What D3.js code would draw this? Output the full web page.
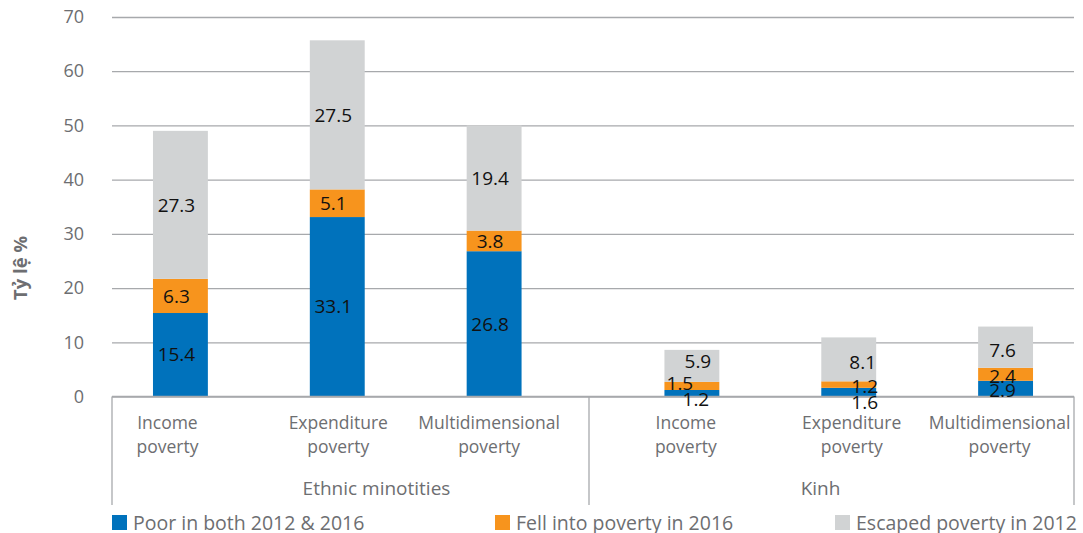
<!DOCTYPE html>
<html>
<head>
<meta charset="utf-8">
<script src="https://cdn.jsdelivr.net/npm/d3@7"></script>
<style>
  body { margin: 0; background: #fff; }
  svg { display: block; }
  text { font-family: "Open Sans", "Noto Sans", sans-serif; }
</style>
</head>
<body>
<svg id="chart" width="1083" height="533"></svg>
<script>
// ---- data ----
const groups = ["Ethnic minotities", "Kinh"];
const measures = ["Income poverty", "Expenditure poverty", "Multidimensional poverty"];
const seriesKeys = ["poorBoth", "fellInto", "escaped"];
const seriesNames = ["Poor in both 2012 & 2016", "Fell into poverty in 2016", "Escaped poverty in 2012"];
// values per bar: Ethnic minorities (3 measures), then Kinh (3 measures)
const poorBoth = [15.4, 33.1, 26.8, 1.2, 1.6, 2.9];
const fellInto = [6.3, 5.1, 3.8, 1.5, 1.2, 2.4];
const escaped  = [27.3, 27.5, 19.4, 5.9, 8.1, 7.6];
const yTicks = [0, 10, 20, 30, 40, 50, 60, 70];
const yTitle = "Tỷ lệ %";

// ---- styling / layout ----
const colors = { poorBoth: "#0072bc", fellInto: "#f7941d", escaped: "#d1d3d4" };
const textGrey = "#6d6e71";
const lineGrey = "#a7a9ac";
const plotLeft = 112, plotRight = 1074, frameSplit = 589, frameBottom = 505;

// small hand placement of crowded value labels in the short Kinh bars
const labelNudge = {
  "Kinh|Income poverty|escaped":       { dx: 10, dy: -5 },
  "Kinh|Income poverty|fellInto":      { dx: -8, dy: -3 },
  "Kinh|Income poverty|poorBoth":      { dx: 8,  dy: 6 },
  "Kinh|Expenditure poverty|escaped":  { dx: 18, dy: 3 },
  "Kinh|Expenditure poverty|fellInto": { dx: 20, dy: 1.5 },
  "Kinh|Expenditure poverty|poorBoth": { dx: 20, dy: 10 },
  "Kinh|Multidimensional poverty|escaped":  { dx: 1, dy: 3 },
  "Kinh|Multidimensional poverty|fellInto": { dx: 1, dy: 2 },
  "Kinh|Multidimensional poverty|poorBoth": { dx: 1, dy: 2 }
};
// horizontal shift of the wrapped category labels, in bar order
const catLabelShift = [-13, 1, -5, -6, 3, -6];
const groupLabelShift = [26, -11];

// rows for stacking
const rows = [];
groups.forEach((g, gi) => measures.forEach((m, mi) => {
  const i = gi * measures.length + mi;
  rows.push({ group: g, measure: m, poorBoth: poorBoth[i], fellInto: fellInto[i], escaped: escaped[i] });
}));

const svg = d3.select("#chart");

const y = d3.scaleLinear().domain([0, 70]).range([396.5, 17]);
const xGroup = d3.scaleBand().domain(groups).range([102, 1084]).paddingInner(0.08).paddingOuter(0);
const xInner = d3.scaleBand().domain(measures).range([0, xGroup.bandwidth()])
  .paddingInner(0.65).paddingOuter(0.325);
const barX = d => xGroup(d.group) + xInner(d.measure);
const barCx = d => barX(d) + xInner.bandwidth() / 2;

// gridlines + tick labels
const yAxis = d3.axisLeft(y).tickValues(yTicks).tickSize(-(plotRight - plotLeft)).tickPadding(28);
const ya = svg.append("g").attr("transform", `translate(${plotLeft},0)`).call(yAxis);
ya.select(".domain").remove();
ya.selectAll(".tick line").attr("stroke", lineGrey).attr("stroke-width", 1.3);
ya.selectAll(".tick text").attr("fill", textGrey).attr("font-size", 18)
  .style("font-family", "'Open Sans', sans-serif");

// y title
svg.append("text")
  .attr("transform", "translate(27,268) rotate(-90)")
  .attr("text-anchor", "middle")
  .attr("font-size", 18.5).attr("font-weight", "bold").attr("fill", textGrey)
  .text(yTitle);

// stacked bars
const stack = d3.stack().keys(seriesKeys)(rows);
const layer = svg.append("g").selectAll("g").data(stack).join("g")
  .attr("fill", s => colors[s.key]);
layer.selectAll("rect").data(s => s.map(p => ({ p, key: s.key }))).join("rect")
  .attr("x", d => barX(d.p.data))
  .attr("width", xInner.bandwidth())
  .attr("y", d => y(d.p[1]))
  .attr("height", d => y(d.p[0]) - y(d.p[1]));

// category frame (multi-level axis box)
const frame = svg.append("g").attr("stroke", lineGrey).attr("stroke-width", 1.3).attr("fill", "none");
frame.append("line").attr("x1", plotLeft).attr("x2", plotRight).attr("y1", y(0)).attr("y2", y(0));
[plotLeft, frameSplit, plotRight].forEach(xv =>
  frame.append("line").attr("x1", xv).attr("x2", xv).attr("y1", y(0)).attr("y2", frameBottom));

// value labels
const labels = [];
stack.forEach(s => s.forEach(p => labels.push({ p, key: s.key })));
svg.append("g").selectAll("text").data(labels).join("text")
  .attr("x", d => {
    const n = labelNudge[`${d.p.data.group}|${d.p.data.measure}|${d.key}`];
    return barCx(d.p.data) - 4 + (n ? n.dx : 0);
  })
  .attr("y", d => {
    const n = labelNudge[`${d.p.data.group}|${d.p.data.measure}|${d.key}`];
    return y((d.p[0] + d.p[1]) / 2) + (n ? n.dy : 0);
  })
  .attr("dy", "0.35em")
  .attr("text-anchor", "middle")
  .attr("font-size", 19).attr("fill", "#111")
  .text(d => (d.p[1] - d.p[0]).toFixed(1));

// category labels (two lines)
const cat = svg.append("g").attr("fill", textGrey).attr("font-size", 17.5).attr("text-anchor", "middle");
rows.forEach((d, i) => {
  const words = d.measure.split(" ");
  const t = cat.append("text");
  words.forEach((w, k) => t.append("tspan")
    .attr("x", barCx(d) + catLabelShift[i]).attr("y", 429 + k * 23.5).text(w));
});

// group labels
const segMid = [(plotLeft + frameSplit) / 2, (frameSplit + plotRight) / 2];
svg.append("g").selectAll("text").data(groups).join("text")
  .attr("x", (g, i) => segMid[i] + groupLabelShift[i])
  .attr("y", 495)
  .attr("text-anchor", "middle")
  .attr("font-size", 19).attr("fill", textGrey)
  .text(g => g);

// legend
const legendX = [112, 495, 835];
const lg = svg.append("g").selectAll("g").data(seriesKeys).join("g")
  .attr("transform", (k, i) => `translate(${legendX[i]},515)`);
lg.append("rect").attr("width", 15).attr("height", 15).attr("fill", k => colors[k]);
lg.append("text").attr("x", 21).attr("y", 14.5)
  .attr("font-size", 19.5).attr("fill", textGrey)
  .text((k, i) => seriesNames[i]);
</script>
</body>
</html>
